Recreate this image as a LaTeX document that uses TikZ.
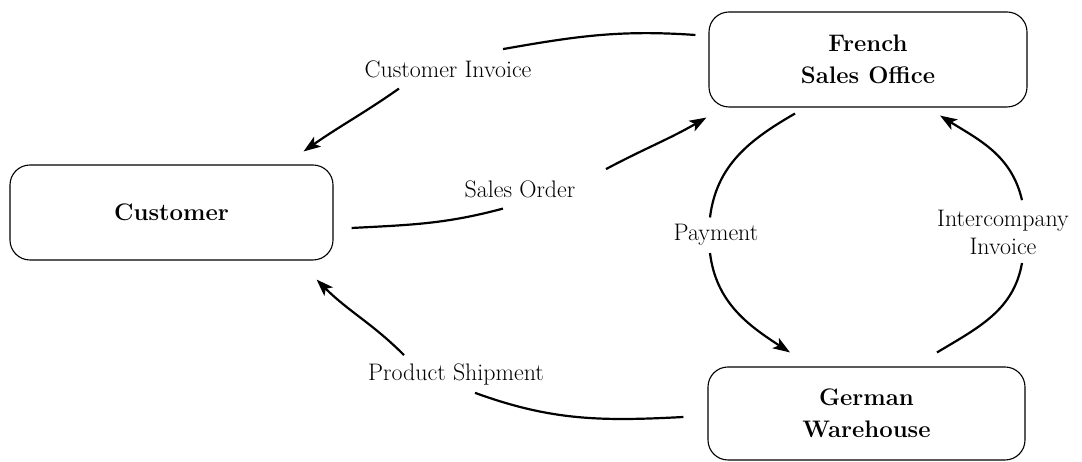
\documentclass[tikz,border=0pt]{standalone}
\usetikzlibrary{arrows.meta}
\begin{document}
\begin{tikzpicture}[x=1bp,y=1bp,
  box/.style={draw, line width=1.1bp, rounded corners=20bp, inner sep=0pt, align=center,
    font=\fontsize{24}{32}\selectfont\bfseries},
  lab/.style={inner sep=0pt, align=center, font=\fontsize{24}{28}\selectfont},
  flow/.style={line width=2.2bp, -{Stealth[length=17bp,width=12bp,inset=4bp]}}]
\useasboundingbox (0,0) rectangle (1082,462);
% boxes
\node[box, minimum width=323bp, minimum height=95bp] (cust) at (171.5,249.5) {Customer};
\node[box, minimum width=318bp, minimum height=95bp] (fso) at (868,402.5) {French\\Sales Office};
\node[box, minimum width=317bp, minimum height=93bp] (gw) at (866.5,48.5) {German\\Warehouse};
% labels
\node[lab, anchor=base] (lci) at (448,384) {Customer Invoice};
\node[lab, anchor=base] (lso) at (520,264) {Sales Order};
\node[lab, anchor=base] (lps) at (456,81) {Product Shipment};
\node[lab, anchor=base] (lpay) at (716,221) {Payment};
\node[lab, anchor=south] (lici) at (1003,207) {Intercompany\\Invoice};
% connector ends
\coordinate (ci0) at ([shift={(-13,24.5)}]fso.west);
\coordinate (ci1) at ([shift={(55,12)}]lci.north);
\coordinate (ci2) at ([shift={(-49,-10)}]lci.south);
\coordinate (ci3) at ([shift={(-30,13)}]cust.north east);
\coordinate (so0) at ([shift={(18,-15.5)}]cust.east);
\coordinate (so1) at ([shift={(-17,-10)}]lso.south);
\coordinate (so2) at ([shift={(86,12)}]lso.north);
\coordinate (so3) at ([shift={(-2,-10)}]fso.south west);
\coordinate (ps0) at ([shift={(-24,-3.5)}]gw.west);
\coordinate (ps1) at ([shift={(19,-7)}]lps.south);
\coordinate (ps2) at ([shift={(-52,9)}]lps.north);
\coordinate (ps3) at ([shift={(-17,-19)}]cust.south east);
\coordinate (pa0) at ([shift={(-73,-6)}]fso.south);
\coordinate (pa1) at ([shift={(-6,7)}]lpay.north);
\coordinate (pa2) at ([shift={(-6,-7)}]lpay.south);
\coordinate (pa3) at ([shift={(-76.5,14)}]gw.north);
\coordinate (ic0) at ([shift={(70.5,14)}]gw.north);
\coordinate (ic1) at ([shift={(19,-8)}]lici.south);
\coordinate (ic2) at ([shift={(19,10)}]lici.north);
\coordinate (ic3) at ([shift={(72,-8)}]fso.south);
% connectors
\draw[flow] (ci0) to[out=176,in=10] (ci1) (ci2) to[out=215,in=35] (ci3);
\draw[flow] (so0) to[out=3,in=195] (so1) (so2) to[out=28,in=210] (so3);
\draw[flow] (ps0) to[out=183,in=-20] (ps1) (ps2) to[out=135,in=-45] (ps3);
\draw[flow] (pa0) to[out=210,in=83] (pa1) (pa2) to[out=-83,in=147] (pa3);
\draw[flow] (ic0) to[out=31,in=-100] (ic1) (ic2) to[out=103,in=-32] (ic3);
\end{tikzpicture}
\end{document}
